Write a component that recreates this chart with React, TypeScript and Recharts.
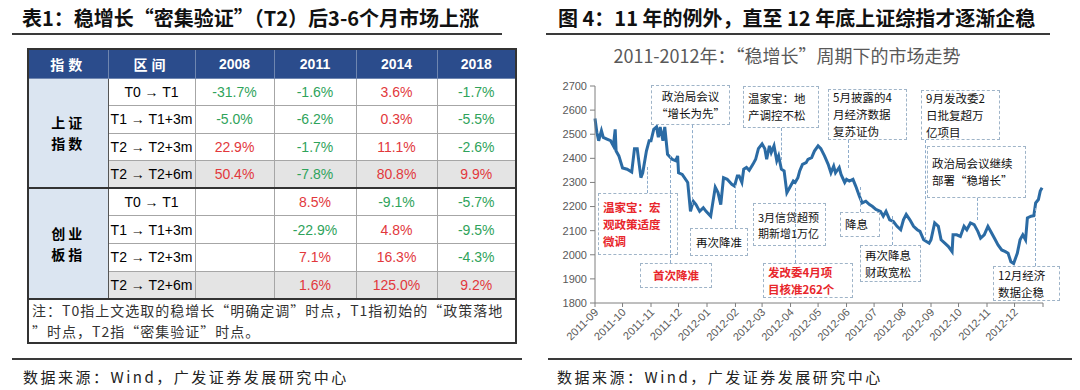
import React from 'react'
import { LineChart, Line, XAxis, YAxis } from 'recharts'

const CJK = '"Noto Sans CJK SC", "Liberation Sans", sans-serif'
const LATIN = '"Liberation Sans", Arial, "Noto Sans CJK SC", sans-serif'

// ---- table 1 data ----
const tableYears = ['2008', '2011', '2014', '2018']
const periods = ['T0 → T1', 'T1 → T1+3m', 'T2 → T2+3m', 'T2 → T2+6m']
const indexNames = [['上证', '指数'], ['创业', '板指']]
const shReturns = [
  [-31.7, -1.6, 3.6, -1.7],
  [-5.0, -6.2, 0.3, -5.5],
  [22.9, -1.7, 11.1, -2.6],
  [50.4, -7.8, 80.8, 9.9],
]
const cybReturns = [
  [null, 8.5, -9.1, -5.7],
  [null, -22.9, 4.8, -9.5],
  [null, 7.1, 16.3, -4.3],
  [null, 1.6, 125.0, 9.2],
]
const tableNote = [
  '注：T0指上文选取的稳增长“明确定调”时点，T1指初始的“政策落地',
  '”时点，T2指“密集验证”时点。',
]

// ---- figure 4 data: 上证综指 2011-09 ~ 2012-12 ----
const tradeDates = [
  '2011-09-01', '2011-09-03', '2011-09-05', '2011-09-08', '2011-09-10', '2011-09-14', '2011-09-18', '2011-09-21', '2011-09-23', '2011-09-24', '2011-09-27',
  '2011-10-01', '2011-10-06', '2011-10-11', '2011-10-14', '2011-10-17', '2011-10-21', '2011-10-23', '2011-10-27', '2011-10-30',
  '2011-11-01', '2011-11-04', '2011-11-07', '2011-11-09', '2011-11-11', '2011-11-14', '2011-11-16', '2011-11-19', '2011-11-24', '2011-11-28', '2011-11-30',
  '2011-12-01', '2011-12-05', '2011-12-11', '2011-12-14', '2011-12-17', '2011-12-20', '2011-12-24', '2011-12-28', '2011-12-31',
  '2012-01-05', '2012-01-07', '2012-01-10', '2012-01-13', '2012-01-16', '2012-01-19', '2012-01-23', '2012-01-28', '2012-01-31',
  '2012-02-03', '2012-02-05', '2012-02-08', '2012-02-10', '2012-02-13', '2012-02-16', '2012-02-20', '2012-02-23', '2012-02-26',
  '2012-03-01', '2012-03-04', '2012-03-06', '2012-03-09', '2012-03-11', '2012-03-14', '2012-03-17', '2012-03-19', '2012-03-22', '2012-03-25', '2012-03-28', '2012-03-31',
  '2012-04-04', '2012-04-06', '2012-04-09', '2012-04-11', '2012-04-14', '2012-04-18', '2012-04-20', '2012-04-24', '2012-04-27',
  '2012-05-01', '2012-05-04', '2012-05-08', '2012-05-12', '2012-05-15', '2012-05-18', '2012-05-20', '2012-05-24', '2012-05-26', '2012-05-30',
  '2012-06-01', '2012-06-04', '2012-06-08', '2012-06-11', '2012-06-15', '2012-06-18', '2012-06-22', '2012-06-26', '2012-06-29',
  '2012-07-03', '2012-07-08', '2012-07-11', '2012-07-14', '2012-07-18', '2012-07-22', '2012-07-26', '2012-07-30',
  '2012-08-02', '2012-08-05', '2012-08-09', '2012-08-13', '2012-08-17', '2012-08-20', '2012-08-24', '2012-08-27', '2012-08-30',
  '2012-09-01', '2012-09-05', '2012-09-09', '2012-09-12', '2012-09-16', '2012-09-20', '2012-09-24', '2012-09-25', '2012-09-29',
  '2012-10-03', '2012-10-07', '2012-10-10', '2012-10-14', '2012-10-18', '2012-10-22', '2012-10-25', '2012-10-29',
  '2012-11-02', '2012-11-06', '2012-11-10', '2012-11-13', '2012-11-17', '2012-11-21', '2012-11-24', '2012-11-27', '2012-11-30',
  '2012-12-04', '2012-12-07', '2012-12-10', '2012-12-13', '2012-12-15', '2012-12-19', '2012-12-22', '2012-12-24', '2012-12-27', '2012-12-29', '2012-12-31',
]
const shClose = [
  2565, 2508, 2473, 2515, 2487, 2480, 2473, 2452, 2520, 2430, 2410,
  2360, 2355, 2343, 2440, 2440, 2320, 2340, 2430, 2473,
  2473, 2520, 2530, 2487, 2530, 2473, 2530, 2417, 2396, 2390, 2410,
  2340, 2333, 2300, 2180, 2222, 2208, 2180, 2195, 2180,
  2160, 2208, 2280, 2258, 2208, 2320, 2313, 2292, 2285,
  2327, 2327, 2300, 2355, 2362, 2350, 2375, 2396, 2440,
  2460, 2440, 2396, 2452, 2424, 2452, 2390, 2410, 2355, 2348, 2257, 2278,
  2306, 2300, 2320, 2348, 2375, 2382, 2396, 2403, 2430,
  2452, 2440, 2410, 2375, 2340, 2368, 2340, 2362, 2333, 2300,
  2313, 2306, 2313, 2285, 2243, 2215, 2222, 2208, 2201,
  2188, 2180, 2160, 2180, 2145, 2138, 2118, 2104,
  2145, 2167, 2145, 2118, 2104, 2097, 2062, 2055, 2048,
  2062, 2132, 2118, 2062, 2048, 2034, 2013, 2083, 2083,
  2076, 2118, 2104, 2132, 2125, 2097, 2069, 2083,
  2118, 2090, 2062, 2041, 2020, 2013, 2006, 1971, 1964,
  2006, 2062, 2083, 2062, 2153, 2160, 2162, 2215, 2229, 2264, 2278,
]
const monthLabels = [
  '2011-09', '2011-10', '2011-11', '2011-12', '2012-01', '2012-02', '2012-03', '2012-04',
  '2012-05', '2012-06', '2012-07', '2012-08', '2012-09', '2012-10', '2012-11', '2012-12', '2013-01',
]
const yTicks = [1800, 1900, 2000, 2100, 2200, 2300, 2400, 2500, 2600, 2700]

const chartData = tradeDates.map((d, i) => ({ t: Date.parse(d), v: shClose[i] }))
const monthTicks = monthLabels.map((m) => Date.parse(m + '-01'))

// annotation boxes (page px)
const notes = [
  { text: ['政治局会议', '“增长为先”'], x: 651, y: 85, w: 79, h: 40, center: true },
  { text: ['温家宝：宏', '观政策适度', '微调'], x: 598, y: 193, w: 80, h: 62, red: true },
  { text: ['首次降准'], x: 640, y: 263, w: 72, h: 25, red: true, center: true },
  { text: ['再次降准'], x: 690, y: 228, w: 58, h: 28, center: true },
  { text: ['温家宝：地', '产调控不松'], x: 743, y: 86, w: 76, h: 42 },
  { text: ['3月信贷超预', '期新增1万亿'], x: 753, y: 203, w: 73, h: 43, fs: 11 },
  { text: ['发改委4月项', '目核准262个'], x: 763, y: 263, w: 90, h: 35, red: true },
  { text: ['5月披露的4', '月经济数据', '复苏证伪'], x: 828, y: 89, w: 79, h: 51 },
  { text: ['降息'], x: 840, y: 212, w: 40, h: 25 },
  { text: ['再次降息', '财政宽松'], x: 860, y: 245, w: 61, h: 37 },
  { text: ['9月发改委2', '日批复超万', '亿项目'], x: 921, y: 90, w: 79, h: 50 },
  { text: ['政治局会议继续', '部署“稳增长”'], x: 927, y: 146, w: 99, h: 52 },
  { text: ['12月经济', '数据企稳'], x: 993, y: 266, w: 67, h: 35 },
]
const leaders = [
  { x: 647, y1: 167, y2: 193 },
  { x: 670, y1: 155, y2: 263 },
  { x: 692, y1: 125, y2: 205 },
  { x: 735, y1: 185, y2: 228 },
  { x: 781, y1: 128, y2: 160 },
  { x: 795, y1: 188, y2: 263 },
  { x: 848, y1: 140, y2: 168 },
  { x: 860, y1: 187, y2: 212 },
  { x: 892, y1: 216, y2: 245 },
  { x: 925, y1: 140, y2: 240 },
  { x: 977, y1: 198, y2: 220 },
  { x: 1035, y1: 208, y2: 266 },
]

const GREEN = '#2fa35b'
const RED = '#e2383c'
const HEAD_BG = '#2b4c8c'
const SIDE_BG = '#dbe5f1'
const GRAY_BG = '#e4e4e4'

const abs = (l: number, t: number): React.CSSProperties => ({ position: 'absolute', left: l, top: t })

function MonthTick(props: any) {
  const { x, y, payload } = props
  const i = monthTicks.indexOf(payload.value)
  const label = i >= 0 && i < monthLabels.length - 1 ? monthLabels[i] : ''
  if (!label) return <g />
  const ax = x + 4
  const ay = y + 4
  return (
    <text
      x={ax}
      y={ay}
      transform={`rotate(-45 ${ax} ${ay})`}
      textAnchor="end"
      fill="#595959"
      fontFamily="Liberation Sans, Arial, sans-serif"
      fontSize={11}
      style={{ fontFamily: LATIN, fontSize: 11 }}
    >
      {label}
    </text>
  )
}

function ReturnTable() {
  const cell: React.CSSProperties = {
    border: '1px solid #a6a6a6',
    padding: 0,
    textAlign: 'center',
    fontSize: 14,
    fontFamily: LATIN,
    lineHeight: '16px',
  }
  const groups = [shReturns, cybReturns]
  return (
    <table
      style={{
        ...abs(27, 48),
        width: 488,
        height: 294,
        borderCollapse: 'collapse',
        tableLayout: 'fixed',
        border: '2px solid #333',
      }}
    >
      <colgroup>
        {[80, 87, 79, 82, 81, 79].map((w, i) => (
          <col key={i} style={{ width: w }} />
        ))}
      </colgroup>
      <tbody>
        <tr style={{ background: HEAD_BG, height: 29 }}>
          {['指数', '区间', ...tableYears].map((h, i) => (
            <th
              key={h}
              style={{
                color: '#fff',
                fontSize: 14,
                fontWeight: 700,
                fontFamily: i < 2 ? CJK : LATIN,
                letterSpacing: i < 2 ? 4 : 0,
                lineHeight: '16px',
                border: '1px solid #6f86b0',
                padding: 0,
              }}
            >
              {h}
            </th>
          ))}
        </tr>
        {groups.map((g, gi) =>
          g.map((row, ri) => {
            const shade = ri === 3 ? GRAY_BG : '#fff'
            const topBorder = gi === 1 && ri === 0 ? '2px solid #333' : undefined
            return (
              <tr key={gi + '-' + ri} style={{ height: 27.6 }}>
                {ri === 0 && (
                  <td
                    rowSpan={4}
                    style={{
                      ...cell,
                      background: SIDE_BG,
                      fontFamily: CJK,
                      fontWeight: 700,
                      fontSize: 14,
                      letterSpacing: 3,
                      lineHeight: '21px',
                      borderTop: topBorder,
                      borderRight: '1px solid #555',
                    }}
                  >
                    {indexNames[gi][0]}
                    <br />
                    {indexNames[gi][1]}
                  </td>
                )}
                <td style={{ ...cell, background: shade, borderTop: topBorder, whiteSpace: 'nowrap' }}>{periods[ri]}</td>
                {row.map((v, ci) => (
                  <td
                    key={ci}
                    style={{
                      ...cell,
                      background: shade,
                      borderTop: topBorder,
                      color: v === null ? '#000' : v < 0 ? GREEN : RED,
                    }}
                  >
                    {v === null ? '' : v.toFixed(1) + '%'}
                  </td>
                ))}
              </tr>
            )
          })
        )}
        <tr style={{ height: 44 }}>
          <td
            colSpan={6}
            style={{
              border: '1px solid #a6a6a6',
              borderTop: '2px solid #333',
              padding: '0 0 0 3px',
              fontFamily: CJK,
              fontSize: 14,
              letterSpacing: 1,
              color: '#333',
              lineHeight: '20.5px',
              textAlign: 'left',
              whiteSpace: 'nowrap',
            }}
          >
            {tableNote[0]}
            <br />
            {tableNote[1]}
          </td>
        </tr>
      </tbody>
    </table>
  )
}

export default function App() {
  const title: React.CSSProperties = {
    fontFamily: CJK,
    fontSize: 20,
    fontWeight: 700,
    color: '#111',
    whiteSpace: 'nowrap',
    lineHeight: '29px',
  }
  const source: React.CSSProperties = {
    fontFamily: CJK,
    fontSize: 15,
    letterSpacing: 2.5,
    color: '#222',
    whiteSpace: 'nowrap',
    lineHeight: '22px',
  }
  const rule = (l: number, t: number, w: number, h = 2): React.CSSProperties => ({
    ...abs(l, t),
    width: w,
    height: h,
    background: '#3a3a3a',
  })

  return (
    <div style={{ ...abs(0, 0), width: 1080, height: 390, background: '#fff', overflow: 'hidden' }}>
      {/* left panel */}
      <div style={{ ...abs(22, 3), ...title }}>表1：稳增长“密集验证”（T2）后3-6个月市场上涨</div>
      <div style={rule(12, 33, 490)} />
      <ReturnTable />
      <div style={rule(12, 358, 510)} />
      <div style={{ ...abs(23, 366), ...source }}>数据来源：Wind，广发证券发展研究中心</div>

      {/* right panel */}
      <div style={{ ...abs(558, 3), ...title }}>图 4：11 年的例外，直至 12 年底上证综指才逐渐企稳</div>
      <div style={rule(546, 33, 504)} />
      <div
        style={{
          ...abs(540, 42),
          width: 494,
          textAlign: 'center',
          fontFamily: CJK,
          fontSize: 18,
          color: '#595959',
          lineHeight: '26px',
        }}
      >
        2011-2012年：“稳增长”周期下的市场走势
      </div>

      <div style={abs(540, 50)}>
        <LineChart width={540} height={300} data={chartData} margin={{ top: 36, right: 37, left: 15, bottom: 4 }}>
          <XAxis
            dataKey="t"
            type="number"
            domain={[monthTicks[0], monthTicks[monthTicks.length - 1]]}
            ticks={monthTicks}
            interval={0}
            tick={MonthTick}
            tickSize={4}
            height={43}
            axisLine={{ stroke: '#7f7f7f' }}
            tickLine={{ stroke: '#7f7f7f' }}
          />
          <YAxis
            domain={[1800, 2700]}
            ticks={yTicks}
            interval={0}
            width={40}
            tickSize={5}
            tickMargin={3}
            tick={{ fontSize: 11, fill: '#595959', fontFamily: LATIN }}
            axisLine={{ stroke: '#7f7f7f' }}
            tickLine={{ stroke: '#7f7f7f' }}
          />
          <Line
            dataKey="v"
            type="linear"
            stroke="#2b6ba4"
            strokeWidth={3}
            dot={false}
            isAnimationActive={false}
          />
        </LineChart>
      </div>

      {leaders.map((l, i) => (
        <div
          key={'l' + i}
          style={{ ...abs(l.x, l.y1), height: l.y2 - l.y1, width: 0, borderLeft: '1px dashed #8eaccb' }}
        />
      ))}
      {notes.map((n, i) => {
        const fs = n.fs ?? 11.5
        return (
          <div
            key={'n' + i}
            style={{
              ...abs(n.x, n.y),
              width: n.w,
              height: n.h,
              boxSizing: 'border-box',
              border: '1px dashed #9fb4c8',
              display: 'flex',
              flexDirection: 'column',
              justifyContent: 'center',
              alignItems: n.center ? 'center' : 'flex-start',
              paddingLeft: n.center ? 0 : 4,
              fontFamily: CJK,
              fontSize: fs,
              fontWeight: n.red ? 700 : 400,
              color: n.red ? '#e8262b' : '#111',
              lineHeight: Math.ceil(fs * 1.45) + 'px',
              whiteSpace: 'nowrap',
            }}
          >
            {n.text.map((t, j) => (
              <div key={j}>{t}</div>
            ))}
          </div>
        )
      })}

      <div style={rule(548, 358, 524)} />
      <div style={{ ...abs(557, 366), ...source }}>数据来源：Wind，广发证券发展研究中心</div>
    </div>
  )
}
